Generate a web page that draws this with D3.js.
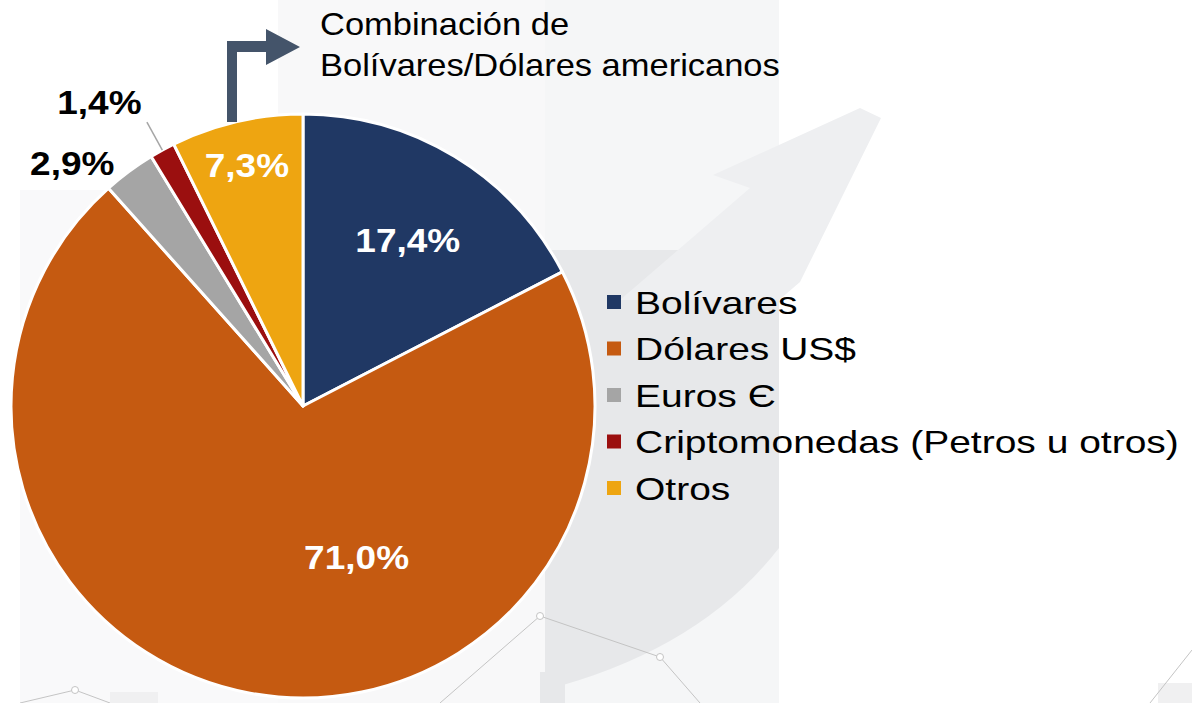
<!DOCTYPE html>
<html>
<head>
<meta charset="utf-8">
<style>
    body { margin: 0; background: #fff; }
    text { font-family: "Liberation Sans", Arial, sans-serif; }
    .pct { font-weight: bold; font-size: 33px; }
    .legend text { font-size: 32px; fill: #000; }
    .note { font-size: 32px; fill: #000; }
</style>
</head>
<body>
<script src="https://cdn.jsdelivr.net/npm/d3@7"></script>
<script>
    // data
    var categories = ["Bolívares", "Dólares US$", "Euros Є", "Criptomonedas (Petros u otros)", "Otros"];
    var values = [17.4, 71.0, 2.9, 1.4, 7.3];
    var labels = ["17,4%", "71,0%", "2,9%", "1,4%", "7,3%"];
    var colors = ["#203864", "#c55a11", "#a5a5a5", "#9b0f0f", "#eea511"];
    var labelColors = ["#fff", "#fff", "#000", "#000", "#fff"];
    var noteLines = ["Combinación de", "Bolívares/Dólares americanos"];

    var W = 1192, H = 703;
    var cx = 303, cy = 406, R = 292;
    // label radius / angle nudge (deg) per slice, like excel's best fit
    var labelPlace = [[196, 1], [160, -30], [335, -7], [366, -5], [247, 0]];

    var svg = d3.select("body").append("svg")
        .attr("width", W)
        .attr("height", H);

    // faint watermark in the background
    var bg = svg.append("g");
    bg.append("rect").attr("x", 278).attr("y", 0).attr("width", 267).attr("height", H).attr("fill", "#f8f8f9");
    bg.append("rect").attr("x", 20).attr("y", 190).attr("width", 258).attr("height", H - 190).attr("fill", "#f9f9fa");
    bg.append("rect").attr("x", 545).attr("y", 0).attr("width", 234).attr("height", H).attr("fill", "#f5f6f7");
    bg.append("path")
        .attr("d", "M545,250 L779,250 L779,548 Q700,650 545,690 Z")
        .attr("fill", "#e7e8ea");
    bg.append("path")
        .attr("d", "M713,175 L860,108 L881,118 L800,282 L779,300 L620,300 L750,188 Z")
        .attr("fill", "#eeeff1");
    bg.append("rect").attr("x", 110).attr("y", 692).attr("width", 48).attr("height", 11).attr("fill", "#f0f0f1");
    bg.append("rect").attr("x", 540).attr("y", 672).attr("width", 25).attr("height", 31).attr("fill", "#e7e8ea");
    bg.append("rect").attr("x", 1158).attr("y", 683).attr("width", 34).attr("height", 20).attr("fill", "#f0f0f1");
    var net = [[[20, 703], [75, 690], [110, 703]], [[440, 703], [540, 616], [660, 657], [700, 703]], [[1150, 703], [1192, 650]]];
    net.forEach(function(pts) {
        bg.append("path").attr("d", d3.line()(pts)).attr("fill", "none").attr("stroke", "#c4c4c4").attr("stroke-width", 1);
    });
    [[75, 690], [540, 616], [660, 657]].forEach(function(p) {
        bg.append("circle").attr("cx", p[0]).attr("cy", p[1]).attr("r", 3.5).attr("fill", "#fff").attr("stroke", "#c4c4c4");
    });

    // pie
    var pie = d3.pie().sort(null).value(function(d) { return d; });
    var arcs = pie(values);
    var arc = d3.arc().innerRadius(0).outerRadius(R);

    var g = svg.append("g").attr("transform", "translate(" + cx + "," + cy + ")");

    g.selectAll("path.slice")
        .data(arcs)
        .enter().append("path")
        .attr("class", "slice")
        .attr("d", arc)
        .attr("fill", function(d, i) { return colors[i]; })
        .attr("stroke", "#fff")
        .attr("stroke-width", 3)
        .attr("stroke-linejoin", "round");

    function polar(a, r) { return [r * Math.sin(a), -r * Math.cos(a)]; }

    // leader for the small slice
    var ci = 3, ca = (arcs[ci].startAngle + arcs[ci].endAngle) / 2;
    var p0 = polar(ca, R), p1 = polar(ca, R + 32);
    g.append("line")
        .attr("x1", p0[0]).attr("y1", p0[1])
        .attr("x2", p1[0]).attr("y2", p1[1])
        .attr("stroke", "#a6a6a6")
        .attr("stroke-width", 1.5);

    var lbl = g.selectAll("g.lbl")
        .data(arcs)
        .enter().append("g")
        .attr("class", "lbl");
    lbl.append("text")
        .attr("class", "pct")
        .attr("text-anchor", "middle")
        .attr("dy", "0.36em")
        .attr("fill", function(d, i) { return labelColors[i]; })
        .text(function(d, i) { return labels[i]; });
    var pctScale = 105 / lbl.select("text").filter(function(d, i) { return i === 0; }).node().getComputedTextLength();
    lbl.attr("transform", function(d, i) {
        var a = (d.startAngle + d.endAngle) / 2 + labelPlace[i][1] * Math.PI / 180;
        var p = polar(a, labelPlace[i][0]);
        return "translate(" + p[0] + "," + p[1] + ") scale(" + pctScale + ",1)";
    });

    // legend
    var legend = svg.append("g").attr("class", "legend");
    var ly = d3.scalePoint().domain(categories).range([302, 488]);
    var items = legend.selectAll("g")
        .data(categories)
        .enter().append("g")
        .attr("transform", function(d) { return "translate(607," + ly(d) + ")"; });
    items.append("rect")
        .attr("x", 0).attr("y", -7)
        .attr("width", 14).attr("height", 14)
        .attr("fill", function(d, i) { return colors[i]; });
    var ltext = items.append("text")
        .attr("x", 0)
        .attr("dy", "0.36em")
        .text(function(d) { return d; });
    var longest = d3.max(ltext.nodes(), function(n) { return n.getComputedTextLength(); });
    var legScale = (1179 - 635) / longest;
    ltext.attr("transform", "translate(28,0) scale(" + legScale + ",1)");

    // note with bent arrow
    var note = svg.append("g");
    var nt = note.selectAll("text")
        .data(noteLines)
        .enter().append("text")
        .attr("class", "note")
        .attr("y", function(d, i) { return 35 + i * 41; })
        .text(function(d) { return d; });
    var noteScale = (780 - 320) / nt.nodes()[1].getComputedTextLength();
    nt.attr("transform", "translate(320,0) scale(" + noteScale + ",1)");

    note.append("path")
        .attr("d", "M227,122 L227,41 L266,41 L266,29 L300,47 L266,65 L266,52 L237,52 L237,122 Z")
        .attr("fill", "#44546a");
</script>
</body>
</html>
